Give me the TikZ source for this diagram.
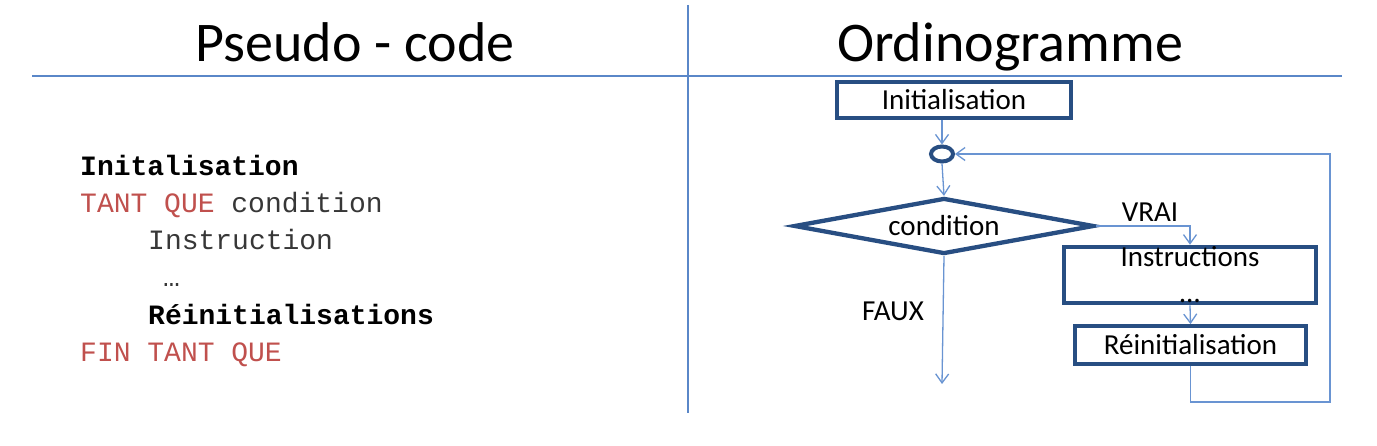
\documentclass[tikz,border=0pt]{standalone}
\usepackage{fontspec}
\setmainfont{Carlito}
\setmonofont{Liberation Mono}
\usetikzlibrary{arrows.meta,shapes.geometric}
\definecolor{boxblue}{RGB}{40,78,130}
\definecolor{lineblue}{RGB}{105,148,210}
\definecolor{rulerblue}{RGB}{90,135,200}
\definecolor{kwred}{RGB}{192,80,77}
\definecolor{codegray}{RGB}{55,55,55}

\begin{document}
\begin{tikzpicture}[x=1pt, y=-1pt,
    box/.style={draw=boxblue, line width=4.3pt, inner sep=0pt, font=\fontsize{29}{33}\selectfont},
    flow/.style={lineblue, line width=1.3pt, -{Straight Barb[length=9pt, width=13pt]}},
    code/.style={anchor=base west, inner sep=0pt, font=\ttfamily\fontsize{28}{33}\selectfont},
    lbl/.style={inner sep=0pt, font=\fontsize{29}{33}\selectfont}]
    \useasboundingbox (0,0) rectangle (1377,446);
    \fill[white] (0,0) rectangle (1377,446);
    \draw[rulerblue, line width=1.3pt] (32,76) -- (1342,76);
    \draw[rulerblue, line width=1.3pt] (688,5) -- (688,413);
    \node[anchor=base, inner sep=0pt, font=\fontsize{56}{60}\selectfont] (ttlcode) at (355,62) {Pseudo - code};
    \node[anchor=base, inner sep=0pt, font=\fontsize{56}{60}\selectfont] (ttlflow) at (1010,62) {Ordinogramme};

    \node[code, text=black] (c1) at (80,176) {\bfseries Initalisation};
    \node[code] (c2) at (80,213) {\textcolor{kwred}{TANT QUE} \textcolor{codegray}{condition}};
    \node[code, text=codegray] (c3) at (148,250) {Instruction};
    \node[code, text=codegray] (c4) at (163,287) {…};
    \node[code, text=black] (c5) at (148,325) {\bfseries Réinitialisations};
    \node[code, text=kwred] (c6) at (80,362) {FIN TANT QUE};

    \node[box, minimum width=233.5pt, minimum height=35.5pt] (init) at (954,100) {Initialisation};
    \node[draw=boxblue, line width=4pt, ellipse, inner sep=0pt, minimum width=22pt, minimum height=15pt] (loop) at (942,154) {};
    \node[box, diamond, shape aspect=5.3, minimum width=300pt, minimum height=56pt] (cond) at (944,226) {condition};
    \node[box, align=center, minimum width=251.5pt, minimum height=53.5pt] (instr) at (1190,275) {Instructions\\[3pt]…};
    \node[box, minimum width=230.5pt, minimum height=37.5pt] (reinit) at (1190.5,345) {Réinitialisation};
    \node[lbl] (vrai) at (1150,212) {VRAI};
    \node[lbl] (faux) at (893,311) {FAUX};
    \coordinate (back) at (1330,402);
    \coordinate (exit) at (942,384);

    \draw[flow] (init.south -| loop) -- (loop.north);
    \draw[flow] (loop.south) -- (cond.north);
    \draw[flow] (cond.east) -| (instr.north);
    \draw[flow] (instr.south) -- (reinit.north);
    \draw[flow] (reinit.south) |- (back) |- (loop.east);
    \draw[flow] (cond.south) -- (exit);
  \end{tikzpicture}
\end{document}
